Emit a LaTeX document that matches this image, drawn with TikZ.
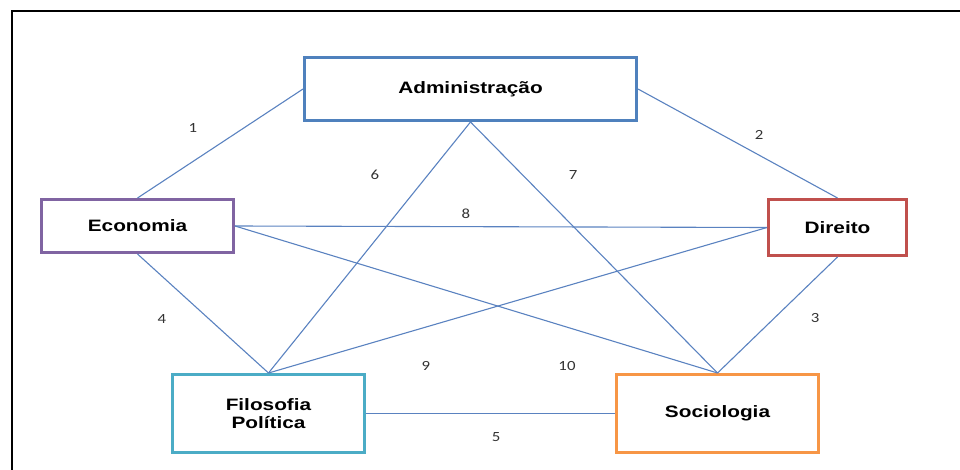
\documentclass[tikz,border=0pt]{standalone}
\usepackage{fontspec}
\newfontfamily\boxfont[FakeStretch=1.26]{Liberation Sans}
\newfontfamily\numfont[FakeStretch=1.2]{Carlito}
\definecolor{cAdm}{HTML}{4F81BD}
\definecolor{cEco}{HTML}{8064A2}
\definecolor{cDir}{HTML}{C0504D}
\definecolor{cFil}{HTML}{4BACC6}
\definecolor{cSoc}{HTML}{F79646}
\definecolor{cLink}{HTML}{5A82C0}
\tikzset{
  area/.style={draw=#1, line width=3pt, fill=white, inner sep=0pt, align=center,
    font=\boxfont\bfseries\fontsize{16.5}{18.5}\selectfont},
  link/.style={draw=cLink, line width=1.1pt},
  num/.style={inner sep=0pt, font=\numfont\fontsize{14}{16}\selectfont, text=black!80}
}
\begin{document}
\begin{tikzpicture}[x=1pt,y=-1pt]
\useasboundingbox (0,0) rectangle (960,470);
% frame
\draw[line width=2.2pt, black] (12,470) -- (12,11) -- (960,11);

% areas
\node[area=cAdm, minimum width=332pt, minimum height=63pt] (adm) at (470.5,89) {Administração};
\node[area=cEco, minimum width=192pt, minimum height=53pt] (eco) at (137.5,226) {Economia};
\node[area=cDir, minimum width=138pt, minimum height=56pt] (dir) at (837.5,227.5) {Direito};
\node[area=cFil, minimum width=192pt, minimum height=78pt] (fil) at (268.5,413.5) {Filosofia\\Política};
\node[area=cSoc, minimum width=202pt, minimum height=78pt] (soc) at (717.5,413.5) {Sociologia};

% links
\draw[link] (eco.north) -- (adm.west);
\draw[link] (adm.east) -- (dir.north);
\draw[link] (dir.south) -- (soc.north);
\draw[link] (eco.south) -- (fil.north);
\draw[link] (fil.east) -- (soc.west);
\draw[link] (adm.south) -- (fil.north);
\draw[link] (adm.south) -- (soc.north);
\draw[link] (eco.east) -- (dir.west);
\draw[link] (fil.north) -- (dir.west);
\draw[link] (eco.east) -- (soc.north);

% link numbers
\node[num] (n1) at (193,128) {1};
\node[num] (n2) at (759,135) {2};
\node[num] (n3) at (815,318) {3};
\node[num] (n4) at (162,319) {4};
\node[num] (n5) at (496,437) {5};
\node[num] (n6) at (375,175) {6};
\node[num] (n7) at (573,175) {7};
\node[num] (n8) at (466,214) {8};
\node[num] (n9) at (426,366) {9};
\node[num] (n10) at (567,366) {10};
\end{tikzpicture}
\end{document}
